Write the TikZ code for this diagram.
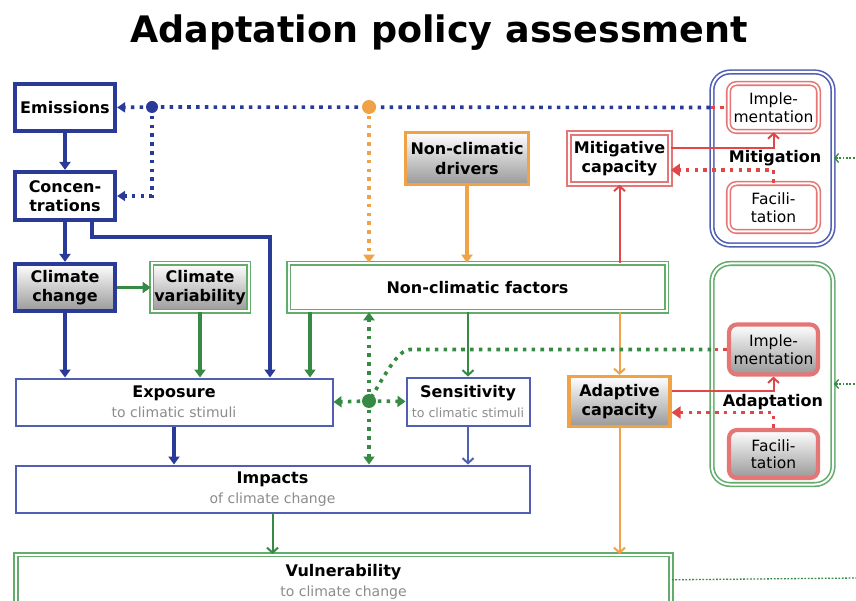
\documentclass[tikz,border=0pt]{standalone}
\usepackage{fontspec}
\setmainfont{DejaVu Sans}
\usepackage{tikz}
\usetikzlibrary{positioning, arrows.meta, calc}

\definecolor{cblue}{RGB}{42,58,152}
\definecolor{lblue}{RGB}{80,95,180}
\definecolor{cgreen}{RGB}{55,138,68}
\definecolor{lgreen}{RGB}{100,172,108}
\definecolor{corange}{RGB}{240,162,70}
\definecolor{cred}{RGB}{226,70,70}
\definecolor{lred}{RGB}{228,118,118}

\newcommand{\subtxt}[1]{{\mdseries\fontsize{14}{16.5}\selectfont\color{gray!90}#1}}

\begin{document}
\begin{tikzpicture}[
        x=1pt, y=-1pt,
        font=\fontsize{16}{19.5}\selectfont\bfseries,
        box/.style={draw=#1, fill=white, align=center, inner sep=1pt},
        heavy/.style={box=#1, line width=4.2pt},
        light/.style={box=#1, line width=2pt},
        twin/.style={box=#1, line width=1.6pt, double=white, double distance=2pt},
        grad/.style={top color=white, bottom color=black!40},
        small/.style={font=\fontsize{15.5}{17.5}\selectfont\mdseries},
        group/.style={draw=#1, line width=1.6pt, double=white, double distance=2pt, rounded corners=18pt},
        arr/.style={-{Triangle[length=8pt,width=11pt]}, line width=3.5pt, draw=#1},
        tarr/.style={-{Straight Barb[length=5pt,width=11pt]}, line width=2pt, draw=#1},
        dotline/.style={line width=3.6pt, dash pattern=on 3.6pt off 5.2pt, draw=#1},
        fine/.style={line width=1.3pt, dash pattern=on 1.8pt off 1.6pt, draw=#1},
    ]
    \clip (0,0) rectangle (856,601);
    \fill[white] (0,0) rectangle (856,601);

    % Title
    \node (title) at (439,33) {\fontsize{36.5}{40}\selectfont Adaptation policy assessment};

    % Climate chain
    \node[heavy=cblue, minimum width=100, minimum height=47] (emis) at (65,107.5) {Emissions};
    \node[heavy=cblue, minimum width=100, minimum height=48] (conc) at (65,196) {Concen-\\trations};
    \node[heavy=cblue, grad, minimum width=100, minimum height=47] (cchg) at (65,287.5) {Climate\\change};
    \node[twin=lgreen, grad, minimum width=97, minimum height=48] (cvar) at (200,287.5) {Climate\\variability};

    % Non-climatic side
    \node[twin=lgreen, minimum width=378, minimum height=48] (ncf) at (477.5,287.5) {Non-climatic factors};
    \node[box=corange, line width=3.2pt, grad, minimum width=123, minimum height=52] (ncd) at (467,158.5) {Non-climatic\\drivers};
    \node[twin=lred, minimum width=101, minimum height=51] (mitcap) at (619.5,158.5) {Mitigative\\capacity};
    \node[box=corange, line width=3.2pt, grad, minimum width=101, minimum height=50] (adcap) at (619.5,401.5) {Adaptive\\capacity};

    % Exposure, sensitivity, impacts, vulnerability
    \node[light=lblue, minimum width=317, minimum height=47] (expo) at (174,402) {Exposure\\\subtxt{to climatic stimuli}};
    \node[light=lblue, minimum width=123, minimum height=48] (sens) at (468,401.5) {Sensitivity\\{\mdseries\fontsize{12.6}{15}\selectfont\color{gray!90}to climatic stimuli}};
    \node[light=lblue, minimum width=514, minimum height=47] (imp) at (272.5,489) {Impacts\\\subtxt{of climate change}};
    \node[twin=lgreen, minimum width=655, minimum height=56, anchor=north] (vul) at (343.5,554) {};
    \node[align=center] (vultxt) at (343.5,582) {Vulnerability\\\subtxt{to climate change}};

    % Mitigation group
    \node[group=lblue, minimum width=121, minimum height=173] (mitg) at (772.5,158.5) {};
    \node[twin=lred, small, rounded corners=8pt, minimum width=90, minimum height=48] (mimp) at (773.5,107.5) {Imple-\\mentation};
    \node[twin=lred, small, rounded corners=8pt, minimum width=90, minimum height=48] (mfac) at (773.5,207.5) {Facili-\\tation};
    \node (mitlbl) at (775,158) {Mitigation};

    % Adaptation group
    \node[group=lgreen, minimum width=121, minimum height=221] (adg) at (772.5,374) {};
    \node[heavy=lred, grad, small, rounded corners=8pt, minimum width=89, minimum height=50] (aimp) at (773.5,349.5) {Imple-\\mentation};
    \node[heavy=lred, grad, small, rounded corners=8pt, minimum width=89, minimum height=48] (afac) at (773.5,454) {Facili-\\tation};
    \node (adlbl) at (773,402) {Adaptation};

    % Junction dots
    \coordinate (bdot) at (152,107);
    \coordinate (odot) at (369,107);
    \coordinate (gdot) at (369,401);
    \coordinate (gbend) at (410,349.5);
    \coordinate (mitin) at (858,158);
    \coordinate (adin) at (858,384);
    \coordinate (vulout) at (858,578);

    % Solid connectors
    \draw[arr=cblue] (emis) -- (conc);
    \draw[arr=cblue] (conc) -- (cchg);
    \draw[arr=cblue] ([xshift=27pt]conc.south) -- ++(0,15) -| ([xshift=96pt]expo.north);
    \draw[arr=cblue] (cchg) -- (cchg |- expo.north);
    \draw[arr=cgreen] (cchg) -- (cvar);
    \draw[arr=cgreen] (cvar) -- (cvar |- expo.north);
    \draw[arr=cgreen] ([xshift=-167.5pt]ncf.south) -- ([xshift=-167.5pt]ncf.south |- expo.north);
    \draw[tarr=cgreen] (sens |- ncf.south) -- (sens);
    \draw[arr=cblue] (expo) -- (expo |- imp.north);
    \draw[tarr=lblue] (sens) -- (sens |- imp.north);
    \draw[tarr=cgreen] (imp) -- (imp |- vul.north);
    \draw[tarr=corange] (adcap) -- (adcap |- vul.north);
    \draw[tarr=corange] (adcap |- ncf.south) -- (adcap);
    \draw[tarr=cred] (mitcap |- ncf.north) -- (mitcap);
    \draw[arr=corange] (ncd) -- (ncd |- ncf.north);
    \draw[tarr=cred] ([yshift=10.5pt]mitcap.east) -| (mimp.south);
    \draw[tarr=cred] ([yshift=10.5pt]adcap.east) -| (aimp.south);

    % Dotted connectors
    \draw[dotline=cblue] (bdot) -- (mitg.west |- mimp);
    \draw[dotline=cred] (mitg.west |- mimp) -- (mimp.west);
    \draw[dotline=cblue, -{Triangle[length=8pt,width=10pt]}] (bdot) -- (emis.east);
    \draw[dotline=cblue, -{Triangle[length=8pt,width=10pt]}] (bdot) |- (conc.east);
    \draw[dotline=corange, -{Triangle[length=8pt,width=11pt]}] (odot) -- (odot |- ncf.north);
    \draw[dotline=cred, -{Triangle[length=9pt,width=12pt]}] (mfac.north) |- ([yshift=-11.5pt]mitcap.east);
    \draw[dotline=cred, -{Triangle[length=9pt,width=12pt]}] (afac.north) |- ([yshift=-11pt]adcap.east);
    \draw[dotline=cred] (aimp.west) -- (adg.west |- aimp);
    \draw[dotline=cgreen] (adg.west |- aimp) -- (gbend) .. controls (398,349.5) and (385,375) .. (gdot);
    \draw[dotline=cgreen, -{Triangle[length=8pt,width=11pt]}] (gdot) -- (expo.east);
    \draw[dotline=cgreen, -{Triangle[length=8pt,width=11pt]}] (gdot) -- (sens.west);
    \draw[dotline=cgreen, -{Triangle[length=8pt,width=11pt]}] (gdot) -- (gdot |- ncf.south);
    \draw[dotline=cgreen, -{Triangle[length=8pt,width=11pt]}] (gdot) -- (gdot |- imp.north);
    \fill[cblue] (bdot) circle (6);
    \fill[corange] (odot) circle (7);
    \fill[cgreen] (gdot) circle (7);

    % Links leaving the picture
    \draw[fine=cgreen, -{Straight Barb[length=4pt,width=9pt]}] (mitin) -- (mitg.east |- mitin);
    \draw[fine=cgreen, -{Straight Barb[length=4pt,width=9pt]}] (adin) -- (adg.east |- adin);
    \draw[fine=cgreen] ([yshift=3pt]vul.east) -- (vulout);
\end{tikzpicture}
\end{document}
